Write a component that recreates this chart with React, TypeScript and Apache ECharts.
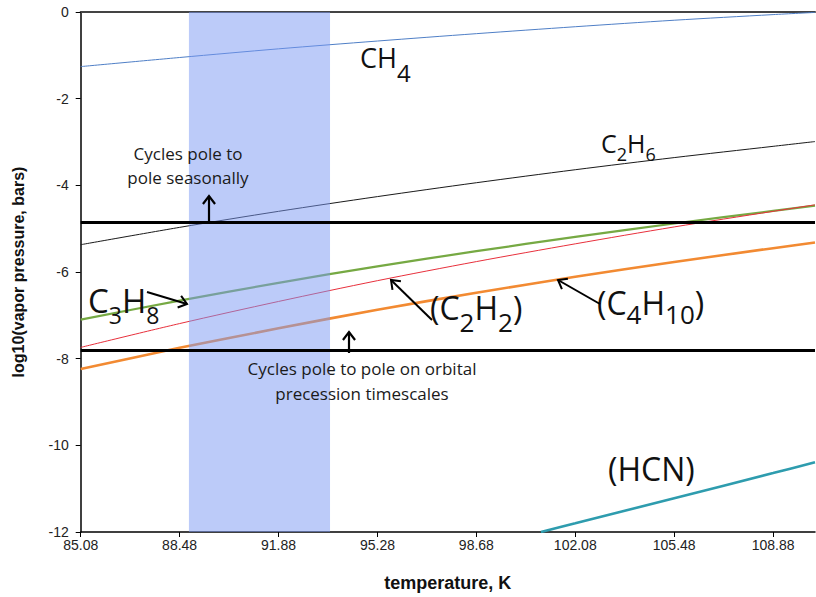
import React, { useEffect, useRef } from "react";
import * as echarts from "echarts";

// ---- data ----
const temperatures = [85.08, 88.48, 91.88, 95.28, 98.68, 102.08, 105.48, 108.88, 110.32];
const ch4 = [-1.26, -1.05, -0.85, -0.67, -0.5, -0.34, -0.19, -0.06, -0.01];
const c2h6 = [-5.37, -4.97, -4.6, -4.26, -3.94, -3.64, -3.36, -3.1, -2.99];
const c3h8 = [-7.1, -6.66, -6.25, -5.87, -5.52, -5.19, -4.88, -4.59, -4.47];
const c2h2 = [-7.74, -7.19, -6.68, -6.2, -5.76, -5.35, -4.96, -4.6, -4.45];
const c4h10 = [-8.24, -7.75, -7.3, -6.87, -6.48, -6.11, -5.77, -5.45, -5.32];
const hcnTemps = [100.9, 102.08, 105.48, 108.88, 110.32];
const hcn = [-12.0, -11.8, -11.22, -10.64, -10.39];
const xTickLabels = [85.08, 88.48, 91.88, 95.28, 98.68, 102.08, 105.48, 108.88];
const xRange = [85.08, 110.32];
const yRange = [-12, 0];
const yInterval = 2;
const cycleLimits = [-4.85, -7.8];
const seasonalBand = [88.8, 93.65];

const LABEL_FONT = "'Open Sans', 'Noto Sans', sans-serif";
const AXIS_FONT = "'Liberation Sans', Arial, sans-serif";

function pairs(xs: number[], ys: number[]) {
  return xs.map((x, i) => [x, ys[i]]);
}

function arrow(x1: number, y1: number, x2: number, y2: number, w = 2) {
  const ang = Math.atan2(y2 - y1, x2 - x1);
  const L = 10;
  const a = 0.65;
  const p1 = [x2 - L * Math.cos(ang - a), y2 - L * Math.sin(ang - a)];
  const p2 = [x2 - L * Math.cos(ang + a), y2 - L * Math.sin(ang + a)];
  return [
    { type: "line", z: 20, shape: { x1, y1, x2, y2 }, style: { stroke: "#000", lineWidth: w } },
    {
      type: "polyline",
      z: 20,
      shape: { points: [p1, [x2, y2], p2] },
      style: { stroke: "#000", lineWidth: w, fill: null },
    },
  ];
}

function chem(parts: [string, boolean][], x: number, yc: number, F: number, S: number, dy: number) {
  const text = parts.map(([t, sub]) => `{${sub ? "s" : "n"}|${t}}`).join("");
  const P = Math.max(0, dy + F / 2 - S / 2);
  return {
    type: "text",
    z: 20,
    style: {
      x,
      y: yc - F / 2,
      text,
      align: "left",
      verticalAlign: "top",
      fill: "#111",
      rich: {
        n: { fontSize: F, fontFamily: LABEL_FONT, lineHeight: F, verticalAlign: "top", color: "#111" },
        s: {
          fontSize: S,
          fontFamily: LABEL_FONT,
          lineHeight: F,
          verticalAlign: "top",
          padding: [P, 0, 0, 0],
          color: "#111",
        },
      },
    },
  };
}

function note(text: string, cx: number, cy: number, size: number, lh: number) {
  return {
    type: "text",
    z: 20,
    style: {
      x: cx,
      y: cy,
      text,
      align: "center",
      verticalAlign: "middle",
      fontSize: size,
      fontFamily: LABEL_FONT,
      lineHeight: lh,
      fill: "#1a1a1a",
    },
  };
}

export default function App() {
  const ref = useRef<HTMLDivElement>(null);

  useEffect(() => {
    if (!ref.current) return;
    const chart = echarts.init(ref.current, undefined, { renderer: "svg" });

    const lineSeries = (name: string, data: number[][], color: string, width: number) => ({
      name,
      type: "line",
      data,
      showSymbol: false,
      symbol: "none",
      smooth: 0.3,
      z: 2,
      lineStyle: { color, width },
      itemStyle: { color },
    });

    const option: any = {
      animation: false,
      backgroundColor: "#fff",
      grid: { left: 80.7, right: 1, top: 12, bottom: 59, containLabel: false },
      xAxis: [
        {
          type: "value",
          min: xRange[0],
          max: xRange[1],
          name: "temperature, K",
          nameLocation: "middle",
          nameGap: 42,
          nameTextStyle: { fontFamily: AXIS_FONT, fontSize: 18, fontWeight: "bold", color: "#111" },
          axisLine: { show: true, onZero: false, lineStyle: { color: "#000", width: 1.5 } },
          axisTick: { show: true, inside: false, length: 5, customValues: xTickLabels, lineStyle: { color: "#000", width: 1 } },
          axisLabel: {
            show: true,
            customValues: xTickLabels,
            formatter: (v: number) => v.toFixed(2),
            fontFamily: AXIS_FONT,
            fontSize: 14,
            color: "#222",
            margin: 6,
          },
          splitLine: { show: false },
        },
        {
          type: "value",
          position: "top",
          min: xRange[0],
          max: xRange[1],
          axisLine: { show: true, onZero: false, lineStyle: { color: "#444", width: 2 } },
          axisTick: { show: false },
          axisLabel: { show: false },
          splitLine: { show: false },
        },
      ],
      yAxis: {
        type: "value",
        min: yRange[0],
        max: yRange[1],
        interval: yInterval,
        name: "log10(vapor pressure, bars)",
        nameLocation: "middle",
        nameGap: 54,
        nameTextStyle: { fontFamily: AXIS_FONT, fontSize: 16, fontWeight: "bold", color: "#111" },
        axisLine: { show: true, onZero: false, lineStyle: { color: "#000", width: 1.5 } },
        axisTick: { show: true, inside: false, length: 5, lineStyle: { color: "#000", width: 1 } },
        axisLabel: { fontFamily: AXIS_FONT, fontSize: 14, color: "#222", margin: 12 },
        splitLine: { show: false },
      },
      series: [
        lineSeries("CH4", pairs(temperatures, ch4), "#4f7fc6", 1),
        lineSeries("C2H6", pairs(temperatures, c2h6), "#1a1a1a", 1),
        lineSeries("C3H8", pairs(temperatures, c3h8), "#76a943", 2.2),
        lineSeries("C2H2", pairs(temperatures, c2h2), "#e8303c", 1),
        lineSeries("C4H10", pairs(temperatures, c4h10), "#f28a32", 2.6),
        lineSeries("HCN", pairs(hcnTemps, hcn), "#2e9cae", 2.6),
        {
          name: "band",
          type: "line",
          data: [],
          z: 3,
          markArea: {
            z: 3,
            silent: true,
            itemStyle: { color: "rgba(122,152,244,0.5)" },
            data: [[{ xAxis: seasonalBand[0] }, { xAxis: seasonalBand[1] }]],
          },
        },
        {
          name: "limits",
          type: "line",
          data: [],
          z: 5,
          markLine: {
            z: 5,
            silent: true,
            symbol: "none",
            label: { show: false },
            lineStyle: { color: "#000", width: 3, type: "solid" },
            data: cycleLimits.map((v) => ({ yAxis: v })),
          },
        },
      ],
      graphic: [
        chem([["CH", false], ["4", true]], 360, 57.5, 27, 24, 15),
        chem([["C", false], ["2", true], ["H", false], ["6", true]], 601, 142.5, 25, 18, 11),
        chem([["C", false], ["3", true], ["H", false], ["8", true]], 88, 300, 33, 23, 15),
        chem([["(C", false], ["2", true], ["H", false], ["2", true], [")", false]], 430, 307.5, 32, 26, 14),
        chem([["(C", false], ["4", true], ["H", false], ["10", true], [")", false]], 597, 302.5, 32, 26, 11),
        chem([["(HCN)", false]], 608, 468.5, 32, 32, 0),
        note("Cycles pole to\npole seasonally", 188, 165, 17, 24),
        note("Cycles pole to pole on orbital\nprecession timescales", 362, 380.5, 17, 25),
        ...arrow(209, 224, 209, 196, 2.2),
        ...arrow(349, 353, 349, 332, 2.2),
        ...arrow(147, 292, 187, 304, 2),
        ...arrow(432, 320, 391, 280, 2),
        ...arrow(600, 304, 558, 280, 2),
      ],
    };

    chart.setOption(option);
    return () => chart.dispose();
  }, []);

  return (
    <div
      ref={ref}
      style={{ position: "fixed", left: 0, top: 0, width: 816, height: 597, background: "#fff" }}
    />
  );
}
